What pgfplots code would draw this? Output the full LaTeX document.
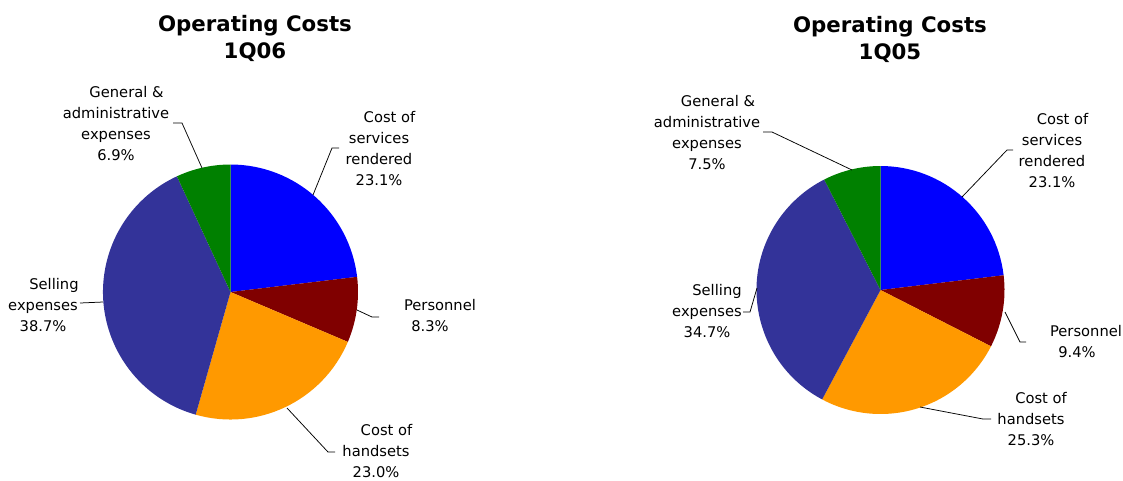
\documentclass[border=0pt]{standalone}
\usepackage{pgfplots}
\pgfplotsset{compat=1.18}
\usepackage{fontspec}
\setmainfont{DejaVu Sans}

\definecolor{services}{RGB}{0,0,255}
\definecolor{personnel}{RGB}{128,0,0}
\definecolor{handsets}{RGB}{255,153,0}
\definecolor{selling}{RGB}{51,51,153}
\definecolor{admin}{RGB}{0,128,0}

% pie: centre x, centre y (pixel coords, y down), radius, {share/colour,...}
% slices run clockwise from 12 o'clock
\newcommand{\pie}[4]{%
  \xdef\cur{90}%
  \foreach \v/\c in {#4} {%
    \pgfmathsetmacro\nxt{\cur-3.6*\v}%
    \pgfmathsetmacro\xa{#1+#3*cos(\cur)}%
    \pgfmathsetmacro\ya{#2-#3*sin(\cur)}%
    \edef\pieslice{\noexpand\fill[\c] (axis cs:#1,#2) -- (axis cs:\xa,\ya)
      arc[start angle=\cur, end angle=\nxt, radius=#3pt] -- cycle;}%
    \pieslice
    \global\let\cur\nxt
  }%
}

\tikzset{
  lbl/.style={font=\fontsize{14.7}{21}\selectfont, align=center, inner sep=0pt, text=black},
  ttl/.style={font=\fontsize{21.3}{27}\selectfont\bfseries, align=center, inner sep=0pt, text=black},
}

\begin{document}
\begin{tikzpicture}
\begin{axis}[
  at={(0,0)}, anchor=north west,
  x=1pt, y=1pt, scale only axis,
  xmin=0, xmax=1123, ymin=0, ymax=480,
  y dir=reverse,
  hide axis, clip=false
]

% 1Q06
\pie{230.5}{292}{127.5}{23.1/services, 8.3/personnel, 23.0/handsets, 38.7/selling, 6.9/admin}
% 1Q05
\pie{880.5}{290}{124}{23.1/services, 9.4/personnel, 25.3/handsets, 34.7/selling, 7.5/admin}

% leader lines
\addplot[black, line width=0.75pt] coordinates {(173,123) (182,123) (202,168)};
\addplot[black, line width=0.75pt] coordinates {(339,148) (332,148) (313,195)};
\addplot[black, line width=0.75pt] coordinates {(357,310) (372,317) (379,317)};
\addplot[black, line width=0.75pt] coordinates {(287,408) (328,452) (335,452)};
\addplot[black, line width=0.75pt] coordinates {(80,303) (103,302)};

\addplot[black, line width=0.75pt] coordinates {(763,132) (772,132) (852,170)};
\addplot[black, line width=0.75pt] coordinates {(1013,150) (1007,150) (962,197)};
\addplot[black, line width=0.75pt] coordinates {(1005,312) (1020,342) (1026,342)};
\addplot[black, line width=0.75pt] coordinates {(920,407) (983,419) (991,419)};
\addplot[black, line width=0.75pt] coordinates {(743,312) (750,312) (757,288)};

% titles
\node[ttl] at (axis cs:255,38.5) {Operating Costs\\1Q06};
\node[ttl] at (axis cs:890,39) {Operating Costs\\1Q05};

% labels 1Q06
\node[lbl] at (axis cs:116,123.5) {\hspace*{21pt}General \&\\administrative\\expenses\\6.9\%};
\node[lbl] at (axis cs:379,148.5) {\hspace*{21pt}Cost of\\services\\rendered\\23.1\%};
\node[lbl] at (axis cs:430,316) {\hspace*{20pt}Personnel\\8.3\%};
\node[lbl] at (axis cs:376,451.5) {\hspace*{21pt}Cost of\\handsets\\23.0\%};
\node[lbl] at (axis cs:43,305) {\hspace*{22pt}Selling\\expenses\\38.7\%};

% labels 1Q05
\node[lbl] at (axis cs:707,132.5) {\hspace*{22pt}General \&\\administrative\\expenses\\7.5\%};
\node[lbl] at (axis cs:1052,150.5) {\hspace*{21pt}Cost of\\services\\rendered\\23.1\%};
\node[lbl] at (axis cs:1077,341.5) {\hspace*{18pt}Personnel\\9.4\%};
\node[lbl] at (axis cs:1031,419) {\hspace*{20pt}Cost of\\handsets\\25.3\%};
\node[lbl] at (axis cs:707,311) {\hspace*{20pt}Selling\\expenses\\34.7\%};

\end{axis}
\pgfresetboundingbox
\path[use as bounding box] (0,0) rectangle (1123pt,-480pt);
\end{tikzpicture}
\end{document}
